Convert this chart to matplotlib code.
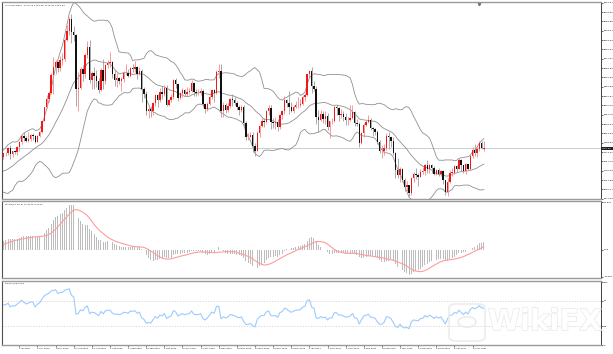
import numpy as np
import pandas as pd
import matplotlib
matplotlib.use("Agg")
import matplotlib.pyplot as plt
import matplotlib.patheffects as pe
from matplotlib.patches import FancyBboxPatch, Circle
from matplotlib.transforms import blended_transform_factory

W, H = 613, 354

# closes before the first bar on screen, only used to warm up the indicators
history_closes = [1623, 1621, 1577, 1591, 1613, 1620, 1662, 1647, 1646, 1683,
                  1713, 1727, 1716, 1717, 1683, 1693, 1686, 1714, 1731, 1727,
                  1712, 1705, 1713, 1686, 1700, 1702, 1706, 1686, 1725, 1702,
                  1697, 1701, 1715, 1730, 1743, 1733, 1745, 1747, 1725, 1734,
                  1729, 1709, 1708, 1720, 1730, 1740, 1727, 1699, 1714, 1684,
                  1698, 1715, 1737, 1728, 1729, 1725, 1726, 1727, 1722, 1743,
                  1754]

# XAUUSD daily, 23 Jun 2020 .. 23 Apr 2021
opens = [1754, 1768, 1761, 1763, 1771, 1772, 1781, 1769, 1775, 1774,
         1784, 1795, 1809, 1803, 1798, 1802, 1810, 1808, 1796, 1809,
         1817, 1842, 1871, 1889, 1902, 1941, 1958, 1970, 1957, 1975,
         1976, 2019, 2038, 2063, 2035, 2028, 1911, 1914, 1954, 1944,
         1985, 2003, 1930, 1946, 1940, 1928, 1908, 1953, 1928, 1964,
         1968, 1970, 1944, 1930, 1934, 1928, 1932, 1946, 1946, 1940,
         1957, 1954, 1959, 1944, 1950, 1912, 1900, 1863, 1868, 1862,
         1880, 1898, 1886, 1905, 1899, 1914, 1877, 1887, 1893, 1930,
         1922, 1891, 1902, 1908, 1900, 1905, 1907, 1924, 1904, 1902,
         1902, 1907, 1878, 1868, 1878, 1893, 1909, 1903, 1949, 1951,
         1862, 1877, 1866, 1873, 1889, 1887, 1880, 1872, 1866, 1871,
         1837, 1806, 1807, 1811, 1787, 1776, 1815, 1831, 1840, 1839,
         1863, 1870, 1838, 1837, 1839, 1827, 1855, 1862, 1886, 1881,
         1871, 1863, 1871, 1876, 1877, 1879, 1894, 1898, 1943, 1950,
         1918, 1912, 1849, 1844, 1856, 1846, 1851, 1828, 1840, 1840,
         1871, 1870, 1855, 1856, 1850, 1843, 1844, 1848, 1860, 1837,
         1834, 1793, 1814, 1833, 1838, 1843, 1826, 1823, 1818, 1795,
         1775, 1775, 1783, 1808, 1805, 1797, 1770, 1734, 1723, 1737,
         1712, 1697, 1700, 1683, 1716, 1726, 1722, 1719, 1730, 1731,
         1745, 1736, 1745, 1738, 1726, 1734, 1726, 1732, 1712, 1685,
         1708, 1728, 1728, 1743, 1737, 1756, 1744, 1732, 1746, 1736,
         1764, 1777, 1770, 1779, 1793, 1779.75]
highs = [1769, 1779, 1767, 1772, 1774, 1785, 1789, 1776, 1777, 1786,
         1797, 1811, 1818, 1808, 1817, 1812, 1814, 1810, 1811, 1820,
         1844, 1872, 1898, 1906, 1945, 1981, 1975, 1973, 1984, 1989,
         2022, 2050, 2069, 2075, 2049, 2032, 1949, 1960, 1963, 1990,
         2015, 2018, 1950, 1958, 1952, 1936, 1956, 1976, 1966, 1975,
         1992, 1972, 1953, 1946, 1937, 1937, 1951, 1966, 1955, 1960,
         1966, 1973, 1961, 1960, 1955, 1916, 1907, 1875, 1873, 1883,
         1899, 1900, 1913, 1918, 1920, 1920, 1890, 1899, 1932, 1934,
         1925, 1905, 1913, 1912, 1916, 1914, 1931, 1926, 1911, 1910,
         1914, 1910, 1880, 1882, 1897, 1911, 1911, 1952, 1965, 1966,
         1882, 1880, 1881, 1892, 1900, 1894, 1884, 1876, 1876, 1875,
         1840, 1814, 1816, 1816, 1792, 1820, 1833, 1848, 1848, 1866,
         1875, 1875, 1848, 1849, 1845, 1857, 1865, 1896, 1890, 1907,
         1882, 1876, 1884, 1893, 1888, 1897, 1903, 1944, 1952, 1959,
         1929, 1917, 1864, 1864, 1863, 1863, 1858, 1842, 1848, 1874,
         1875, 1871, 1868, 1862, 1858, 1850, 1875, 1875, 1862, 1845,
         1838, 1816, 1836, 1844, 1854, 1847, 1828, 1826, 1822, 1800,
         1788, 1790, 1815, 1816, 1806, 1806, 1774, 1760, 1740, 1739,
         1717, 1709, 1701, 1719, 1729, 1739, 1727, 1736, 1741, 1746,
         1755, 1747, 1747, 1743, 1737, 1738, 1734, 1733, 1713, 1716,
         1733, 1738, 1745, 1745, 1759, 1758, 1745, 1749, 1748, 1766,
         1784, 1790, 1784, 1798, 1797, 1797.65]
lows = [1748, 1757, 1755, 1757, 1765, 1766, 1758, 1762, 1769, 1767,
        1775, 1790, 1797, 1795, 1796, 1797, 1799, 1792, 1795, 1805,
        1815, 1840, 1870, 1882, 1900, 1900, 1943, 1948, 1950, 1963,
        1972, 2016, 2030, 2012, 2015, 1874, 1863, 1911, 1928, 1934,
        1979, 1925, 1911, 1911, 1916, 1902, 1906, 1911, 1921, 1956,
        1960, 1936, 1917, 1916, 1922, 1906, 1926, 1942, 1937, 1937,
        1948, 1949, 1933, 1942, 1882, 1891, 1855, 1848, 1850, 1855,
        1873, 1872, 1883, 1890, 1895, 1873, 1873, 1883, 1890, 1913,
        1885, 1889, 1893, 1896, 1895, 1900, 1905, 1896, 1895, 1897,
        1898, 1872, 1859, 1862, 1876, 1888, 1883, 1900, 1936, 1850,
        1849, 1858, 1860, 1870, 1873, 1876, 1866, 1855, 1861, 1830,
        1800, 1799, 1805, 1774, 1764, 1775, 1806, 1827, 1828, 1836,
        1853, 1824, 1826, 1824, 1819, 1824, 1845, 1856, 1871, 1856,
        1860, 1858, 1869, 1870, 1872, 1876, 1885, 1896, 1937, 1902,
        1907, 1835, 1817, 1840, 1837, 1835, 1822, 1803, 1834, 1838,
        1853, 1841, 1847, 1841, 1832, 1832, 1840, 1845, 1830, 1830,
        1785, 1791, 1807, 1830, 1836, 1821, 1808, 1810, 1790, 1771,
        1760, 1766, 1777, 1780, 1784, 1767, 1717, 1717, 1707, 1707,
        1687, 1687, 1677, 1680, 1707, 1715, 1699, 1719, 1725, 1723,
        1727, 1727, 1728, 1722, 1723, 1721, 1721, 1704, 1679, 1677,
        1705, 1721, 1725, 1729, 1736, 1731, 1728, 1726, 1733, 1734,
        1759, 1765, 1762, 1775, 1779, 1775.32]
closes = [1768, 1761, 1763, 1771, 1772, 1781, 1769, 1775, 1774, 1784,
          1795, 1809, 1803, 1798, 1802, 1810, 1808, 1796, 1809, 1817,
          1842, 1871, 1889, 1902, 1941, 1958, 1970, 1957, 1975, 1976,
          2019, 2038, 2063, 2035, 2028, 1911, 1914, 1954, 1944, 1985,
          2003, 1930, 1946, 1940, 1928, 1908, 1953, 1928, 1964, 1968,
          1970, 1944, 1930, 1934, 1928, 1932, 1946, 1946, 1940, 1957,
          1954, 1959, 1944, 1950, 1912, 1900, 1863, 1868, 1862, 1880,
          1898, 1886, 1905, 1899, 1914, 1877, 1887, 1893, 1930, 1922,
          1891, 1902, 1908, 1900, 1905, 1907, 1924, 1904, 1902, 1902,
          1907, 1878, 1868, 1878, 1893, 1909, 1903, 1949, 1951, 1862,
          1877, 1866, 1873, 1889, 1887, 1880, 1872, 1866, 1871, 1837,
          1806, 1807, 1811, 1787, 1776, 1815, 1831, 1840, 1839, 1863,
          1870, 1838, 1837, 1839, 1827, 1855, 1862, 1886, 1881, 1871,
          1863, 1871, 1876, 1877, 1879, 1894, 1898, 1943, 1950, 1918,
          1912, 1849, 1844, 1856, 1846, 1851, 1828, 1840, 1840, 1871,
          1870, 1855, 1856, 1850, 1843, 1844, 1848, 1860, 1837, 1834,
          1793, 1814, 1833, 1838, 1843, 1826, 1823, 1818, 1795, 1775,
          1775, 1783, 1808, 1805, 1797, 1770, 1734, 1723, 1737, 1712,
          1697, 1700, 1683, 1716, 1726, 1722, 1719, 1730, 1731, 1745,
          1736, 1745, 1738, 1726, 1734, 1726, 1732, 1712, 1685, 1708,
          1728, 1728, 1743, 1737, 1756, 1744, 1732, 1746, 1736, 1764,
          1777, 1770, 1779, 1793, 1783, 1780.84]

date_labels = ["23 Jun 2020", "7 Jul 2020", "17 Jul 2020", "28 Jul 2020",
               "10 Aug 2020", "20 Aug 2020", "1 Sep 2020", "11 Sep 2020",
               "23 Sep 2020", "5 Oct 2020", "15 Oct 2020", "27 Oct 2020",
               "6 Nov 2020", "18 Nov 2020", "30 Nov 2020", "10 Dec 2020",
               "22 Dec 2020", "1 Jan 2021", "14 Jan 2021", "27 Jan 2021",
               "8 Feb 2021", "18 Feb 2021", "2 Mar 2021", "11 Mar 2021",
               "24 Mar 2021", "6 Apr 2021", "16 Apr 2021"]
first_label_bar = 2
label_step = 8

price_ticks = [2099.67, 2079.26, 2058.85, 2038.44, 2018.03, 1997.62, 1977.21,
               1956.80, 1936.39, 1915.98, 1895.57, 1875.16, 1854.75, 1834.34,
               1813.93, 1793.52, 1773.11, 1752.70, 1732.29, 1711.88, 1691.47,
               1671.06]
rsi_ticks = [0, 30, 70, 100]


def box(l, t, r, b):
    # panel rectangle given in pixels of the 613x354 picture
    return [l / W, 1 - b / H, (r - l) / W, (b - t) / H]


# indicators, MT4 defaults: Bands(20,2), MACD(12,26,9), RSI(14)
c = pd.Series(history_closes + closes, dtype=float)
n0 = len(history_closes)
mid = c.rolling(20).mean()
dev = c.rolling(20).std(ddof=0)
upper = mid + 2 * dev
lower = mid - 2 * dev
macd = c.ewm(span=12, adjust=False).mean() - c.ewm(span=26, adjust=False).mean()
signal = macd.rolling(9).mean()
diff = c.diff()
gain = diff.clip(lower=0).ewm(alpha=1 / 14, adjust=False).mean()
loss = (-diff.clip(upper=0)).ewm(alpha=1 / 14, adjust=False).mean()
rsi = 100 - 100 / (1 + gain / loss)
mid, upper, lower, macd, signal, rsi = [s.iloc[n0:].to_numpy()
                                        for s in (mid, upper, lower, macd, signal, rsi)]

o = np.array(opens)
hi = np.array(highs)
lo = np.array(lows)
cl = np.array(closes)
x = np.arange(len(cl))
bull = cl >= o

fig = plt.figure(figsize=(W / 100, H / 100), dpi=100)
ax1 = fig.add_axes(box(2, 2, 601, 199))
ax2 = fig.add_axes(box(2, 201, 601, 278), sharex=ax1)
ax3 = fig.add_axes(box(2, 281, 601, 345), sharex=ax1)

for ax in (ax1, ax2, ax3):
    for side in ("top", "bottom"):
        ax.spines[side].set_color("#9a9a9a")
        ax.spines[side].set_linewidth(1.0)
    ax.spines["left"].set_color("#505050")
    ax.spines["left"].set_linewidth(0.8)
    ax.spines["right"].set_color("#404040")
    ax.spines["right"].set_linewidth(0.7)
    ax.yaxis.tick_right()
    ax.tick_params(axis="y", labelsize=1.7, length=1.5, width=0.4, pad=0.8)
    ax.tick_params(axis="x", labelsize=1.6, length=1.5, width=0.4, pad=0.8)

# main window: candles + bollinger bands
ax1.vlines(x, lo, hi, colors=np.where(bull, "#f58a8a", "#9c9c9c"), lw=0.6, zorder=2)
body = np.maximum(np.abs(cl - o), 0.8)
ax1.bar(x, body, bottom=np.minimum(o, cl), width=0.62,
        color=np.where(bull, "#f01818", "#111111"), lw=0, zorder=3)
for band in (upper, mid, lower):
    ax1.plot(x, band, color="#909090", lw=0.6, zorder=1)
ax1.axhline(cl[-1], color="#c6ced6", lw=0.7, zorder=0)
ax1.set_ylim(1670.4, 2101.2)
ax1.set_yticks(price_ticks)
ax1.set_yticklabels([f"{v:.2f}" for v in price_ticks])
ax1.text(1.002, cl[-1], f"{cl[-1]:.2f}", transform=blended_transform_factory(ax1.transAxes, ax1.transData),
         fontsize=1.7, color="white", va="center", ha="left",
         bbox=dict(facecolor="#202020", edgecolor="none", pad=0.6))
ax1.text(0.005, 0.985, f"XAUUSD,Daily  {o[-1]:.2f} {hi[-1]:.2f} {lo[-1]:.2f} {cl[-1]:.2f}",
         transform=ax1.transAxes, fontsize=1.7, va="top", ha="left", color="#202020")
ax1.plot([0.796], [0.992], marker="v", ms=1.8, color="#707070", transform=ax1.transAxes, clip_on=False)

# MACD window
ax2.bar(x, macd, width=0.42, color="#bcbcbc", lw=0)
ax2.plot(x, signal, color="#ff9c9c", lw=0.8)
m_lo = min(macd.min(), np.nanmin(signal))
m_hi = max(macd.max(), np.nanmax(signal))
pad = (m_hi - m_lo) * 0.05
ax2.set_ylim(m_lo - pad, m_hi + pad)
ax2.set_yticks([m_hi + pad * 0.6, 0, m_lo - pad * 0.6])
ax2.set_yticklabels([f"{m_hi + pad:.3f}", "0.00", f"{m_lo - pad:.3f}"])
ax2.text(0.005, 0.975, f"MACD(12,26,9) {macd[-1]:.4f} {signal[-1]:.4f}",
         transform=ax2.transAxes, fontsize=1.7, va="top", ha="left", color="#202020")

# RSI window
ax3.plot(x, rsi, color="#9ccbff", lw=0.8)
for level in (70, 30):
    ax3.axhline(level, color="#cccccc", lw=0.5, ls=(0, (2, 2)))
ax3.set_ylim(0, 101.6)
ax3.set_yticks(rsi_ticks)
ax3.set_yticklabels([str(v) for v in rsi_ticks])
ax3.text(0.005, 0.97, f"RSI(14) {rsi[-1]:.4f}", transform=ax3.transAxes,
         fontsize=1.7, va="top", ha="left", color="#202020")

ticks = [first_label_bar + label_step * k for k in range(len(date_labels))]
ax3.set_xticks(ticks)
ax3.set_xticklabels(date_labels, ha="left")
ax3.set_xlim(2.34, 266.7)
plt.setp(ax1.get_xticklabels(), visible=False)
plt.setp(ax2.get_xticklabels(), visible=False)
ax1.tick_params(axis="x", length=0)
ax2.tick_params(axis="x", length=0)

# WikiFX watermark
logo = FancyBboxPatch((449 / W, 1 - 341 / H), 36 / W, 37 / H,
                      boxstyle="round,pad=0,rounding_size=0.012",
                      transform=fig.transFigure, facecolor="none",
                      edgecolor="#ececec", lw=1.2)
fig.patches.append(logo)
fig.patches.append(Circle((467 / W, 1 - 322 / H), 9 / W, transform=fig.transFigure,
                          facecolor="none", edgecolor="#ececec", lw=1.2))
fig.text(545 / W, 1 - 322 / H, "WikiFX", fontsize=21, fontweight="bold",
         color="white", ha="center", va="center",
         path_effects=[pe.withStroke(linewidth=1.0, foreground="#e8e8e8")])

fig.savefig("out.png", dpi=100)
